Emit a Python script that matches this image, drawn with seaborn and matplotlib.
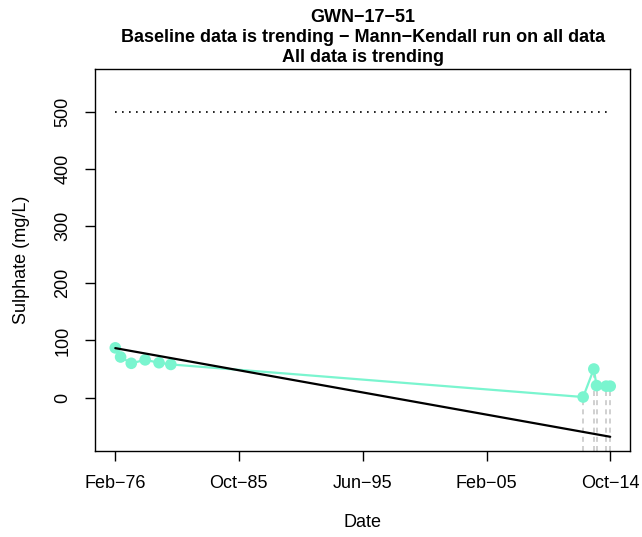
import matplotlib
matplotlib.use("Agg")
import matplotlib.pyplot as plt
import matplotlib.dates as mdates
import numpy as np
import pandas as pd
import seaborn as sns

# Sulphate samples for well GWN-17-51
dates = ["1976-02-15", "1976-07-15", "1977-05-15", "1978-06-15", "1979-07-15",
         "1980-06-15", "2012-08-15", "2013-06-15", "2013-09-01", "2014-06-01",
         "2014-09-25"]
sulphate = [87, 71, 60, 66, 61, 58, 1, 50, 21, 20, 20]
# samples flagged below detection (drawn with dashed drop lines)
flagged = [False, False, False, False, False, False, True, True, True, True, True]

# Sen's slope trend endpoints and guideline value
trend_values = [86.5, -68.5]
guideline = 500

tick_dates = ["1976-02-01", "1985-10-01", "1995-06-01", "2005-02-01", "2014-10-01"]
tick_labels = ["Feb\u221276", "Oct\u221285", "Jun\u221295", "Feb\u221205", "Oct\u221214"]
y_ticks = [0, 100, 200, 300, 400, 500]

title_lines = ["GWN\u221217\u221251",
               "Baseline data is trending \u2212 Mann\u2212Kendall run on all data",
               "All data is trending"]

sns.set_style("white")
plt.rcParams["font.family"] = ["Liberation Sans", "DejaVu Sans"]
plt.rcParams["text.color"] = "black"
plt.rcParams["axes.labelcolor"] = "black"
plt.rcParams["xtick.color"] = "black"
plt.rcParams["ytick.color"] = "black"

FS = 13

df = pd.DataFrame({"date": pd.to_datetime(dates), "value": sulphate, "flag": flagged})
df["x"] = mdates.date2num(df["date"])

W, H = 642, 537
left, right, top, bottom = 95.5, 630, 69, 451
fig = plt.figure(figsize=(W / 100, H / 100), dpi=100)
ax = fig.add_axes([left / W, 1 - bottom / H, (right - left) / W, (bottom - top) / H])

xmin, xmax = df["x"].min(), df["x"].max()
span = xmax - xmin
ax.set_xlim(xmin - 0.04 * span, xmax + 0.04 * span)
ymin, ymax = -93.4, 574.7
ax.set_ylim(ymin, ymax)

aqua = "#7AF5CF"

# drop lines for flagged samples
fl = df[df["flag"]]
ax.vlines(fl["x"], ymin, fl["value"], colors="#C8C8C8", linestyles=(0, (3, 2.5)),
          linewidth=1.2, zorder=1)

sns.lineplot(data=df, x="x", y="value", color=aqua, linewidth=1.6, ax=ax, zorder=2)
sns.scatterplot(data=df, x="x", y="value", color=aqua, s=70, edgecolor="none",
                ax=ax, zorder=3, legend=False)

trend = pd.DataFrame({"x": [xmin, xmax], "value": trend_values})
sns.lineplot(data=trend, x="x", y="value", color="black", linewidth=1.6, ax=ax, zorder=4)

ax.plot([xmin, xmax], [guideline, guideline], color="black", linestyle=(0, (1, 3.2)),
        linewidth=1.2, zorder=4)

ax.set_xticks(mdates.date2num(pd.to_datetime(tick_dates)))
ax.set_xticklabels(tick_labels)
ax.set_yticks(y_ticks)
ax.set_yticklabels([str(v) for v in y_ticks], rotation=90, va="center")
ax.tick_params(axis="both", direction="out", length=7.2, width=1, color="black",
               labelsize=FS, pad=10, bottom=True, left=True)

for s in ax.spines.values():
    s.set_color("black")
    s.set_linewidth(1)
    s.set_visible(True)

ax.set_xlabel("Date", fontsize=FS)
ax.set_ylabel("Sulphate (mg/L)", fontsize=FS)
ax.xaxis.set_label_coords(0.5, -(514 - bottom) / (bottom - top))
ax.yaxis.set_label_coords(-(left - 30) / (right - left), 0.5)

for i, line in enumerate(title_lines):
    fig.text(0.5 * (left + right) / W, 1 - (17 + i * 20.5) / H, line, ha="center",
             va="center", fontsize=FS, fontweight="bold")

fig.savefig("out.png", dpi=100)
